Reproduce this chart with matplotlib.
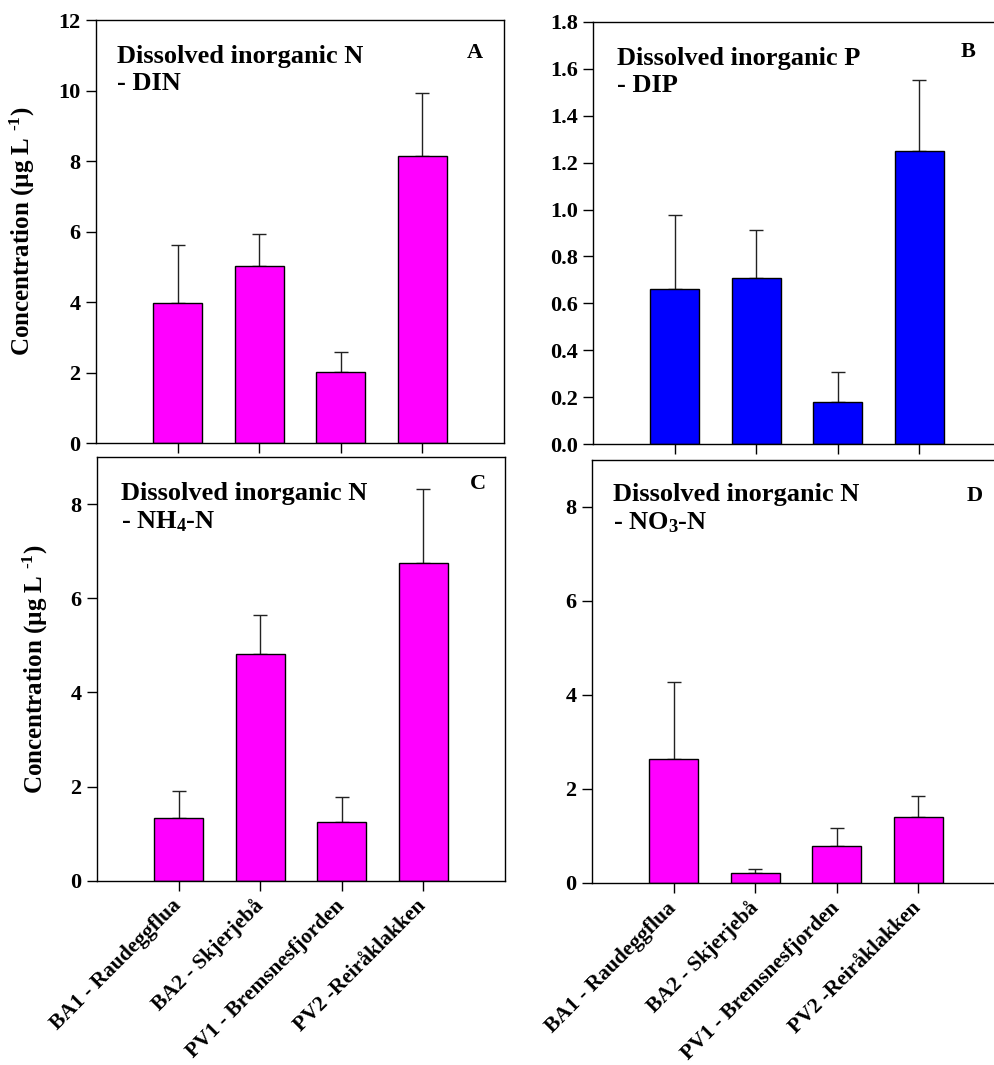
import numpy as np
import matplotlib
matplotlib.use('Agg')
import matplotlib.pyplot as plt

plt.rcParams['font.family'] = 'Liberation Serif'
plt.rcParams['font.weight'] = 'bold'
plt.rcParams['mathtext.default'] = 'regular'

# ---------------------------------------------------------------- data
sites = ['BA1 - Raudeggflua', 'BA2 - Skjerjebå', 'PV1 - Bremsnesfjorden', 'PV2 -Reiråklakken']

din_mean = [3.97, 5.03, 2.03, 8.15]
din_err = [1.66, 0.90, 0.57, 1.77]

dip_mean = [0.66, 0.71, 0.182, 1.25]
dip_err = [0.317, 0.203, 0.128, 0.30]

nh4_mean = [1.34, 4.82, 1.25, 6.75]
nh4_err = [0.575, 0.83, 0.53, 1.58]

no3_mean = [2.64, 0.21, 0.78, 1.41]
no3_err = [1.63, 0.08, 0.40, 0.45]

magenta = '#ff00ff'
blue = '#0000ff'

W, H = 994, 1065
fig = plt.figure(figsize=(W / 100, H / 100), dpi=100)

def px_axes(left, top, right, bottom):
    return fig.add_axes([left / W, 1 - bottom / H, (right - left) / W, (bottom - top) / H])

def panel(ax, mean, err, color, ylim, yticks, fmt, title, letter, title_xy, letter_xy, xlabels=False):
    x = np.arange(1, len(mean) + 1)
    ax.bar(x, mean, width=0.6, color=color, edgecolor='black', linewidth=1.0, zorder=2)
    ax.errorbar(x, mean, yerr=[np.zeros(len(err)), err], fmt='none', ecolor='#222222',
                elinewidth=1.0, capsize=5, capthick=1.0, zorder=1)
    ax.set_xlim(0, 5)
    ax.set_ylim(*ylim)
    ax.set_yticks(yticks)
    ax.set_yticklabels([fmt % v for v in yticks])
    ax.set_xticks(x)
    ax.tick_params(axis='both', direction='out', length=7, width=1, labelsize=16, pad=4)
    if xlabels:
        ax.set_xticklabels(sites, rotation=45, ha='right', va='center', rotation_mode='anchor',
                           fontsize=15.5)
    else:
        ax.set_xticklabels([])
    ax.tick_params(axis='x', pad=9)
    for s in ax.spines.values():
        s.set_linewidth(1.0)
    ax.text(title_xy[0], title_xy[1], title, transform=ax.transAxes, fontsize=19,
            fontweight='bold', ha='left', va='top', linespacing=1.2)
    ax.text(letter_xy[0], letter_xy[1], letter, transform=ax.transAxes, fontsize=16,
            fontweight='bold', ha='center', va='center')

axA = px_axes(96, 20, 504, 443.3)
axB = px_axes(593, 21.7, 1001, 444.3)
axC = px_axes(97, 457, 505, 880.7)
axD = px_axes(592, 460, 1000, 883)

panel(axA, din_mean, din_err, magenta, (0, 12), np.arange(0, 13, 2), '%d',
      'Dissolved inorganic N\n- DIN', 'A', (0.051, 0.94), (0.929, 0.923))
panel(axB, dip_mean, dip_err, blue, (0, 1.8), np.arange(0, 1.81, 0.2), '%.1f',
      'Dissolved inorganic P\n- DIP', 'B', (0.058, 0.94), (0.92, 0.928))
panel(axC, nh4_mean, nh4_err, magenta, (0, 9), np.arange(0, 9, 2), '%d',
      'Dissolved inorganic N\n- NH$_4$-N', 'C', (0.06, 0.94), (0.934, 0.936), xlabels=True)
panel(axD, no3_mean, no3_err, magenta, (0, 9), np.arange(0, 9, 2), '%d',
      'Dissolved inorganic N\n- NO$_3$-N', 'D', (0.052, 0.945), (0.939, 0.915), xlabels=True)

ylab = 'Concentration (µg L $^{\u2010 1}$)'
axA.set_ylabel(ylab, fontsize=18, fontweight='bold')
axA.yaxis.set_label_coords(-0.145, 0.5)
axC.set_ylabel(ylab, fontsize=18, fontweight='bold')
axC.yaxis.set_label_coords(-0.115, 0.5)

fig.savefig('out.png', dpi=100)
